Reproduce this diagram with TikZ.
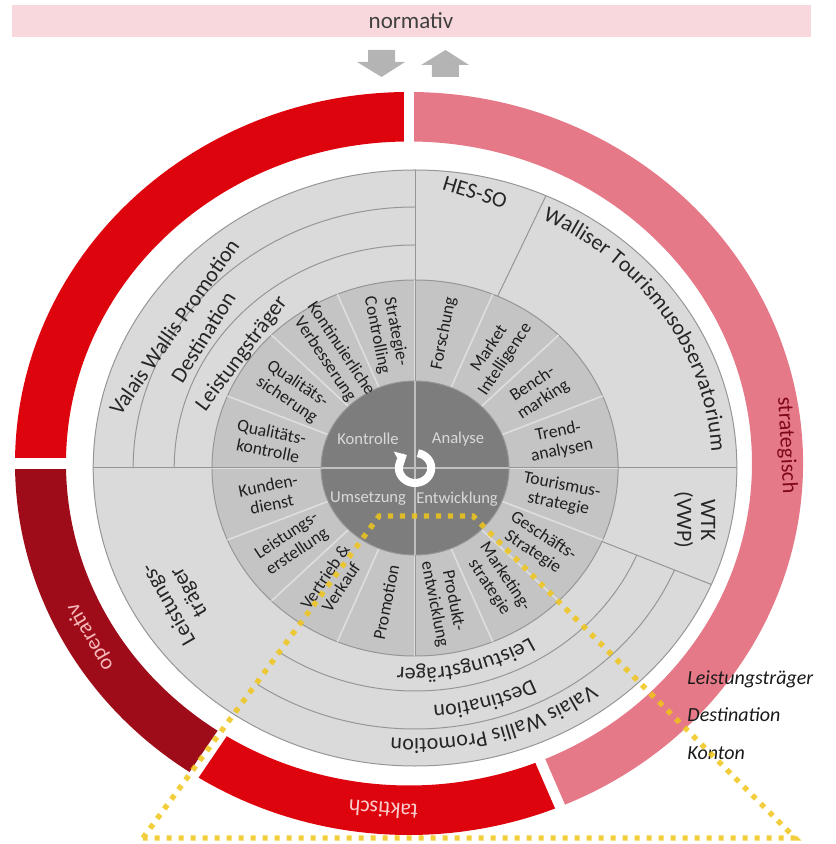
\documentclass[tikz,border=0pt]{standalone}
\usepackage{fontspec}
\setmainfont{Carlito}
\usepackage{tikz}
\usetikzlibrary{arrows.meta,decorations.text}

\definecolor{barpink}{RGB}{249,216,221}
\definecolor{arrowgray}{RGB}{180,180,180}
\definecolor{ringred}{RGB}{222,4,14}
\definecolor{ringdark}{RGB}{158,12,26}
\definecolor{ringpink}{RGB}{229,121,136}
\definecolor{outergray}{RGB}{218,218,218}
\definecolor{midgray}{RGB}{196,196,196}
\definecolor{hubgray}{RGB}{125,125,125}
\definecolor{edgegray}{RGB}{150,150,150}
\definecolor{zoomyellow}{RGB}{240,198,26}

\begin{document}
\begin{tikzpicture}[x=0.54pt, y=0.5pt,
    seglabel/.style={font=\fontsize{8.8}{9.6}\selectfont, text=black!88, align=center, inner sep=0pt},
    hublabel/.style={font=\fontsize{8.3}{9}\selectfont, text=black!15, inner sep=1pt},
    bandlabel/.style={font=\fontsize{11}{12}\selectfont, text=black!85, align=center, inner sep=1pt},
    ringlabel/.style={font=\fontsize{11}{12}\selectfont, inner sep=1pt},
    scalelabel/.style={font=\fontsize{10}{11}\selectfont\itshape, text=black!90, anchor=west, inner sep=0pt},
    edge/.style={draw=edgegray, line width=0.5pt},
    zoomline/.style={draw=zoomyellow, line width=2.7pt, dash pattern=on 2.6pt off 3.4pt, opacity=0.85}]
  \useasboundingbox (-384.3,-376) rectangle (388.9,468);

  % normativ bar
  \fill[barpink] (-373.1,431) rectangle (366.7,463);
  \node[font=\fontsize{11.5}{12}\selectfont, text=black!75] (normativ) at (-3.7,447) {normativ};

  % block arrows down / up
  \fill[arrowgray] (-43.5,418) -- (-18.5,418) -- (-18.5,406) -- (-9.3,406) -- (-31,391) -- (-53.7,406) -- (-43.5,406) -- cycle;
  \fill[arrowgray] (15.7,391) -- (40.7,391) -- (40.7,403) -- (50,403) -- (28.2,418) -- (5.6,403) -- (15.7,403) -- cycle;

  % outer ring, four levels
  \begin{scope}[shift={(-5.6,4.5)}]
    \foreach \s/\e/\c in {90/180/ringred, 180/237/ringdark, 237/292.5/ringred, 292.5/450/ringpink}
      \fill[\c] (\s:364.8 and 371.5) arc[start angle=\s, end angle=\e, x radius=364.8, y radius=371.5]
        -- (\e:317.6 and 322) arc[start angle=\e, end angle=\s, x radius=317.6, y radius=322] -- cycle;
    \foreach \a in {90,180,237,292.5}
      \draw[white, line width=5.2pt] (\a:310 and 314) -- (\a:372 and 378);
    \node[ringlabel, text={rgb,255:red,246;green,184;blue,184}, rotate=120] (operativ) at (210:341 and 347) {operativ};
    \node[ringlabel, text={rgb,255:red,250;green,205;blue,205}, rotate=176] (taktisch) at (266:341 and 347) {taktisch};
    \node[ringlabel, text={rgb,255:red,128;green,8;blue,24}, rotate=-87] (strategisch) at (3:350 and 347) {strategisch};
  \end{scope}

  % gray disc with the actor bands
  \draw[edge, fill=outergray] (0,0) circle[radius=298];
  \foreach \r in {223,261}{
    \draw[edge] (90:\r) arc[start angle=90, end angle=180, radius=\r];
    \draw[edge] (236:\r) arc[start angle=236, end angle=337, radius=\r];
  }
  \draw[edge] (66:188) -- (66:298);
  \draw[edge] (-23:188) -- (-23:298);
  \draw[edge] (180:298) -- (0:298);
  \draw[edge] (90:298) -- (0,0);

  % ring of tasks
  \draw[edge, fill=midgray] (0,0) circle[radius=188];
  \foreach \a in {0,22.5,...,337.5}
    \draw[draw=black!13, line width=0.8pt] (\a:87) -- (\a:188);
  \draw[edge] (180:188) -- (0:188);
  \draw[edge] (90:188) -- (270:188);

  % hub
  \draw[edge, fill=hubgray] (0,0) circle[radius=87];
  \draw[draw=black!25, line width=0.7pt] (180:87) -- (0:87);
  \draw[draw=black!25, line width=0.7pt] (90:87) -- (270:87);
  \draw[white, line width=4pt, -{Triangle[width=9pt, length=5pt]}] (80:15) arc[start angle=80, end angle=-240, radius=15];

  \node[hublabel] (kontrolle) at (-43.5,29) {Kontrolle};
  \node[hublabel] (analyse) at (39.8,29) {Analyse};
  \node[hublabel] (umsetzung) at (-43.5,-31) {Umsetzung};
  \node[hublabel] (entwicklung) at (38.9,-31) {Entwicklung};

  % task labels
  \foreach \a/\r/\t [count=\i] in {
      101.25/-78.75/{Strategie-\\Controlling},
      123.75/-56.25/{Kontinuierliche\\Verbesserung},
      146.25/-33.75/{Qualitäts-\\sicherung},
      168.75/-11.25/{Qualitäts-\\kontrolle},
      78.75/78.75/{Forschung},
      56.25/56.25/{Market\\Intelligence},
      33.75/33.75/{Bench-\\marking},
      11.25/11.25/{Trend-\\analysen},
      -11.25/-11.25/{Tourismus-\\strategie},
      -33.75/-33.75/{Geschäfts-\\Strategie},
      -56.25/-56.25/{Marketing-\\strategie},
      -78.75/-78.75/{Produkt-\\entwicklung},
      191.25/11.25/{Kunden-\\dienst},
      213.75/33.75/{Leistungs-\\erstellung},
      236.25/56.25/{Vertrieb \&\\Verkauf},
      258.75/78.75/{Promotion}}
    \node[seglabel, rotate=\r] (seg\i) at (\a:137) {\t};

  % actor labels
  \node[bandlabel, rotate=55] (vwptop) at (-223.1,141) {Valais Wallis Promotion};
  \node[bandlabel, rotate=58] (desttop) at (-196.3,131) {Destination};
  \node[bandlabel, rotate=53] (lttop) at (-160.2,114) {Leistungsträger};
  \node[bandlabel, rotate=-17] (hesso) at (55.6,276) {HES-SO};
  \node[bandlabel, rotate=-90] (wtk) at (259,-52) {WTK\\(VWP)};
  \node[bandlabel, rotate=120] (ltleft) at (-218.5,-130) {Leistungs-\\träger};

  \path[decorate, decoration={text along path, text align=center, text color=black!85,
      text={|\fontsize{11}{12}\selectfont|Walliser Tourismusobservatorium}}]
    (66:275) arc[start angle=66, end angle=2, radius=275];
  \path[decorate, decoration={text along path, text align=center, text color=black!85,
      text={|\fontsize{11}{12}\selectfont|Leistungsträger}}]
    (324:200) arc[start angle=324, end angle=244, radius=200];
  \path[decorate, decoration={text along path, text align=center, text color=black!85,
      text={|\fontsize{11}{12}\selectfont|Destination}}]
    (326:238) arc[start angle=326, end angle=246, radius=238];
  \path[decorate, decoration={text along path, text align=center, text color=black!85,
      text={|\fontsize{11}{12}\selectfont|Valais Wallis Promotion}}]
    (326.5:271) arc[start angle=326.5, end angle=246.5, radius=271];

  % level scale on the right
  \node[scalelabel] (ltscale) at (251.9,-211) {Leistungsträger};
  \node[scalelabel] (destscale) at (251.9,-247) {Destination};
  \node[scalelabel] (kontonscale) at (251.9,-285) {Konton};

  % zoom frame
  \coordinate (zA) at (-251.9,-370);
  \coordinate (zB) at (-33.3,-48);
  \coordinate (zC) at (53.7,-48);
  \coordinate (zD) at (351.9,-370);
  \draw[zoomline] (zA) -- (zB) -- (zC) -- (zD) -- cycle;
\end{tikzpicture}
\end{document}
